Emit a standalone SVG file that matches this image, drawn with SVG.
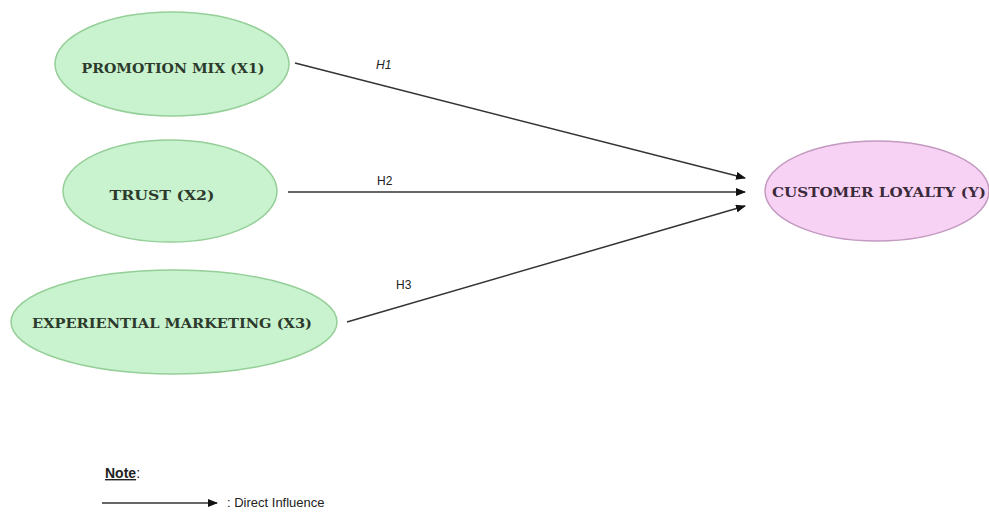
<svg xmlns="http://www.w3.org/2000/svg" width="989" height="515" viewBox="0 0 989 515">
<style>
.g{fill:#c9f2cf;stroke:#94cf98;stroke-width:1.5}
.p{fill:#f7d2f4;stroke:#c39ac0;stroke-width:1.5}
.t{font-family:"DejaVu Serif",serif;font-weight:bold;font-size:13px;text-anchor:middle}
.tg{fill:#2c3a2c}
.tp{fill:#3a2a3a}
.c{stroke:#333;stroke-width:1.5;fill:none;marker-end:url(#ah)}
.l{font-family:"Liberation Sans",sans-serif;font-size:12px;fill:#222}
.n{font-family:"Liberation Sans",sans-serif;fill:#222}
</style>
<defs>
<marker id="ah" markerWidth="10" markerHeight="8" refX="9" refY="4" orient="auto" markerUnits="userSpaceOnUse">
<path d="M0,0 L10,4 L0,8 Z" fill="#111"/>
</marker>
</defs>
<rect width="989" height="515" fill="#fff"/>
<g id="connectors">
<line class="c" x1="295" y1="63" x2="745" y2="178"/>
<line class="c" x1="288" y1="192" x2="745" y2="192"/>
<line class="c" x1="347" y1="322" x2="745" y2="206"/>
<text class="l" x="376" y="69" font-style="italic">H1</text>
<text class="l" x="377" y="185">H2</text>
<text class="l" x="396" y="289">H3</text>
</g>
<g id="x1">
<ellipse class="g" cx="172" cy="64" rx="117" ry="52"/>
<text class="t tg" x="173" y="73" textLength="183" lengthAdjust="spacingAndGlyphs">PROMOTION MIX (X1)</text>
</g>
<g id="x2">
<ellipse class="g" cx="170" cy="191" rx="107" ry="51"/>
<text class="t tg" x="162" y="200" textLength="105" lengthAdjust="spacingAndGlyphs">TRUST (X2)</text>
</g>
<g id="x3">
<ellipse class="g" cx="174" cy="322" rx="163" ry="52"/>
<text class="t tg" x="172" y="328" textLength="280" lengthAdjust="spacingAndGlyphs">EXPERIENTIAL MARKETING (X3)</text>
</g>
<g id="y">
<ellipse class="p" cx="877" cy="191" rx="112" ry="50"/>
<text class="t tp" x="879" y="197" textLength="214" lengthAdjust="spacingAndGlyphs">CUSTOMER LOYALTY (Y)</text>
</g>
<g id="legend">
<text class="n" x="105" y="478" font-size="14"><tspan font-weight="bold" text-decoration="underline">Note</tspan>:</text>
<line class="c" x1="102" y1="503" x2="217" y2="503"/>
<text class="n" x="227" y="507" font-size="13" fill="#444">: Direct Influence</text>
</g>
</svg>
